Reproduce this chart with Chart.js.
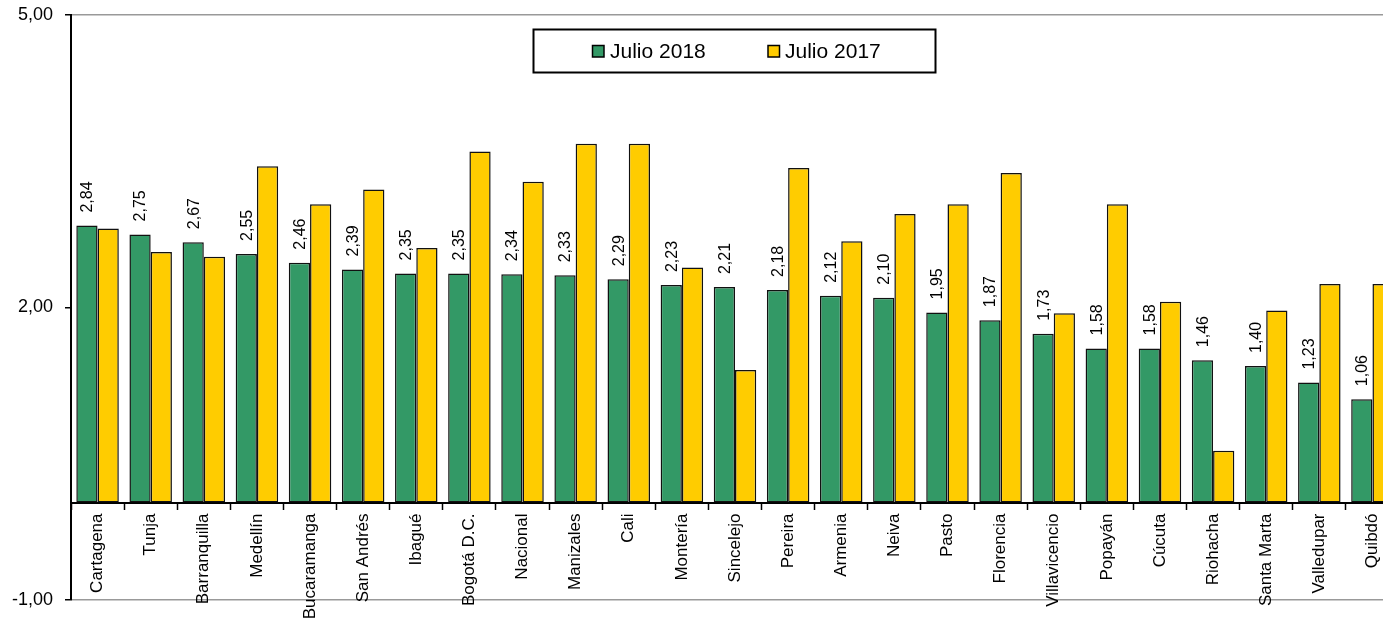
<!DOCTYPE html>
<html>
<head>
<meta charset="utf-8">
<script src="https://cdn.jsdelivr.net/npm/chart.js@4"></script>
<style>
  html, body { margin: 0; padding: 0; background: #fff; overflow: hidden; }
  #wrap { width: 1400px; height: 622px; }
</style>
</head>
<body>
<div id="wrap"><canvas id="chart" width="1400" height="622"></canvas></div>
<script>
const ciudades = ['Cartagena', 'Tunja', 'Barranquilla', 'Medellín', 'Bucaramanga', 'San Andrés', 'Ibagué',
    'Bogotá D.C.', 'Nacional', 'Manizales', 'Cali', 'Montería', 'Sincelejo', 'Pereira', 'Armenia', 'Neiva',
    'Pasto', 'Florencia', 'Villavicencio', 'Popayán', 'Cúcuta', 'Riohacha', 'Santa Marta', 'Valledupar', 'Quibdó'];

const julio2018 = [2.84, 2.75, 2.67, 2.55, 2.46, 2.39, 2.35, 2.35, 2.34, 2.33, 2.29, 2.23, 2.21, 2.18, 2.12,
    2.10, 1.95, 1.87, 1.73, 1.58, 1.58, 1.46, 1.40, 1.23, 1.06];

// (sin etiqueta)
const julio2017 = [2.81, 2.57, 2.52, 3.45, 3.06, 3.21, 2.61, 3.60, 3.29, 3.68, 3.68, 2.41, 1.36, 3.43, 2.68,
    2.96, 3.06, 3.38, 1.94, 3.06, 2.06, 0.53, 1.97, 2.24, 2.24];

const yTicks = [-1, 2, 5];

const verde = '#339966';
const amarillo = '#FFCC00';
const fontFam = '"Liberation Sans", Arial, sans-serif';

const fmt = (v) => v.toFixed(2).replace('.', ',');

// etiquetas verticales sobre las barras verdes
const valueLabels = {
    id: 'valueLabels',
    afterDatasetsDraw(chart) {
        const ctx = chart.ctx;
        const meta = chart.getDatasetMeta(0);
        ctx.save();
        ctx.font = '16px ' + fontFam;
        ctx.fillStyle = '#000';
        ctx.textAlign = 'left';
        ctx.textBaseline = 'middle';
        meta.data.forEach((bar, i) => {
            ctx.save();
            ctx.translate(bar.x + 1, bar.y - 13);
            ctx.rotate(-Math.PI / 2);
            ctx.fillText(fmt(julio2018[i]), 0, 0);
            ctx.restore();
        });
        ctx.restore();
    }
};

// leyenda con recuadro, dentro del área del gráfico
const boxLegend = {
    id: 'boxLegend',
    afterDraw(chart) {
        const ctx = chart.ctx;
        ctx.save();
        ctx.fillStyle = '#fff';
        ctx.strokeStyle = '#000';
        ctx.lineWidth = 2;
        ctx.fillRect(533.5, 29.5, 402, 43);
        ctx.strokeRect(533.5, 29.5, 402, 43);

        const items = [[592.5, 610], [768, 785]];
        ctx.font = '21px ' + fontFam;
        ctx.textBaseline = 'alphabetic';
        ctx.lineWidth = 1.5;
        chart.data.datasets.forEach((ds, i) => {
            const [sx, tx] = items[i];
            ctx.fillStyle = ds.backgroundColor;
            ctx.fillRect(sx, 45.5, 11.5, 11.5);
            ctx.strokeRect(sx, 45.5, 11.5, 11.5);
            ctx.fillStyle = '#000';
            ctx.fillText(ds.label, tx, 57.5);
        });
        ctx.restore();
    }
};

Chart.defaults.font.family = fontFam;
Chart.defaults.color = '#000';

new Chart(document.getElementById('chart'), {
    type: 'bar',
    data: {
        labels: ciudades,
        datasets: [
            {
                label: 'Julio 2018',
                data: julio2018,
                backgroundColor: verde,
                borderColor: '#111',
                borderWidth: 1.5,
                borderSkipped: false
            },
            {
                label: 'Julio 2017',
                data: julio2017,
                backgroundColor: amarillo,
                borderColor: '#111',
                borderWidth: 1.5,
                borderSkipped: false
            }
        ]
    },
    options: {
        responsive: false,
        animation: false,
        layout: { padding: { top: 15, bottom: 22, left: 0, right: 1 } },
        categoryPercentage: 0.8,
        barPercentage: 1.0,
        plugins: {
            legend: { display: false },
            tooltip: { enabled: false }
        },
        scales: {
            x: {
                position: { y: 0 },
                grid: {
                    drawOnChartArea: false,
                    drawTicks: true,
                    tickLength: 6,
                    tickColor: '#000',
                    tickWidth: 1.5,
                    offset: true
                },
                border: { color: '#000', width: 2 },
                ticks: {
                    autoSkip: false,
                    minRotation: 90,
                    maxRotation: 90,
                    padding: 5,
                    font: { size: 17 },
                    color: '#000'
                }
            },
            y: {
                min: -1,
                max: 5,
                afterBuildTicks: (scale) => {
                    scale.ticks = yTicks.map(v => ({ value: v }));
                },
                afterFit: (scale) => {
                    scale.width = 71;
                    scale.paddingTop = 0;
                    scale.paddingBottom = 0;
                },
                grid: {
                    color: (c) => (c.tick && c.tick.value === 2) ? 'rgba(0,0,0,0)' : '#999',
                    lineWidth: 1.5,
                    tickLength: 6,
                    tickColor: '#000',
                    tickWidth: 1.5
                },
                border: { color: '#000', width: 2 },
                ticks: {
                    padding: 12,
                    font: { size: 18 },
                    color: '#000',
                    callback: (v) => fmt(v)
                }
            }
        }
    },
    plugins: [valueLabels, boxLegend]
});
</script>
</body>
</html>
